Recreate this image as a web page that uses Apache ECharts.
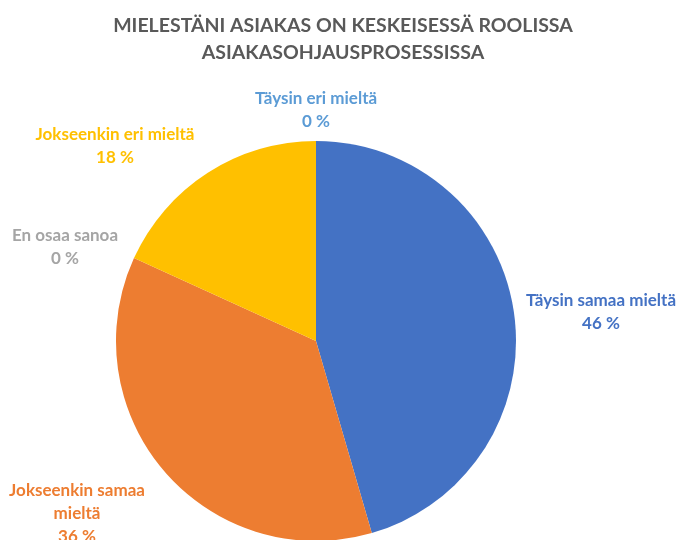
<!DOCTYPE html>
<html>
<head>
<meta charset="utf-8">
<script src="https://cdn.jsdelivr.net/npm/echarts@6/dist/echarts.min.js"></script>
<style>
  html, body { margin: 0; padding: 0; background: #fff; }
  #chart { width: 686px; height: 540px; }
</style>
</head>
<body>
<div id="chart"></div>
<script>
// data (shares in %, label shows rounded value)
const categories = ['Täysin samaa mieltä', 'Jokseenkin samaa mieltä', 'En osaa sanoa', 'Jokseenkin eri mieltä', 'Täysin eri mieltä'];
const values = [45.5, 36.3, 0, 18.2, 0];
const colors = ['#4472C4', '#ED7D31', '#A5A5A5', '#FFC000', '#5B9BD5'];

// where each label sits (center of text block)
const labelPos = [[601, 312], [77, 514], [65, 247], [115, 146], [316, 110]];

const chart = echarts.init(document.getElementById('chart'));

const option = {
  title: {
    text: 'MIELESTÄNI ASIAKAS ON KESKEISESSÄ ROOLISSA\nASIAKASOHJAUSPROSESSISSA',
    left: 'center',
    top: 7,
    textStyle: {
      fontFamily: 'Lato',
      fontSize: 19.5,
      fontWeight: 'bold',
      color: '#595959',
      lineHeight: 27
    }
  },
  series: [{
    type: 'pie',
    center: [316, 341],
    radius: 200,
    startAngle: 90,
    clockwise: true,
    silent: true,
    itemStyle: { borderWidth: 0 },
    label: {
      show: true,
      position: 'inside',
      formatter: p => p.name + '\n' + Math.round(p.value) + ' %',
      fontFamily: 'Lato',
      fontSize: 17,
      fontWeight: 'bold',
      lineHeight: 23,
      align: 'center'
    },
    labelLine: { show: false },
    labelLayout: function (p) {
      const pos = labelPos[p.dataIndex];
      return { x: pos[0], y: pos[1], align: 'center', verticalAlign: 'middle', hideOverlap: false };
    },
    data: categories.map((name, i) => ({
      name: i === 1 ? 'Jokseenkin samaa\nmieltä' : name,
      value: values[i],
      itemStyle: { color: colors[i] },
      label: { color: colors[i] }
    }))
  }]
};

chart.setOption(option);
</script>
</body>
</html>
